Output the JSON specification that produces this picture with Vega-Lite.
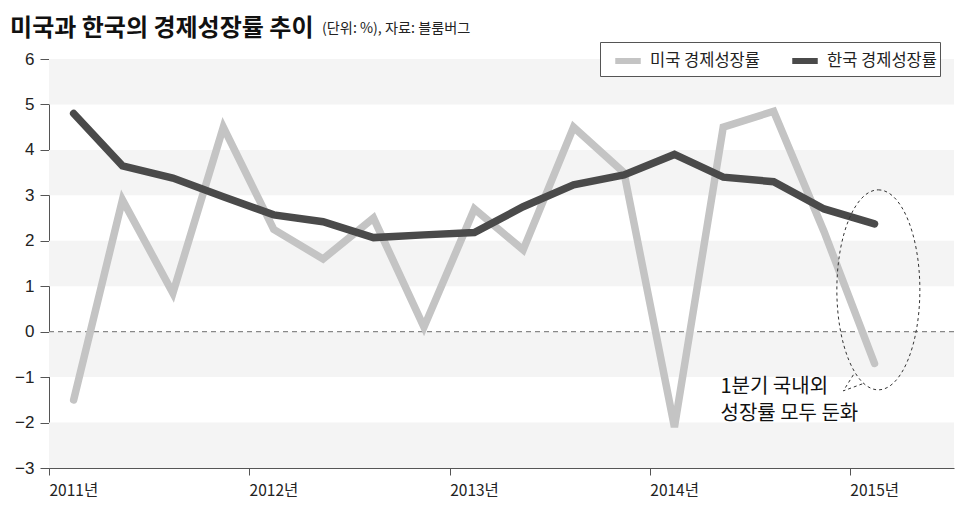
{
  "$schema": "https://vega.github.io/schema/vega-lite/v6.json",
  "width": 905,
  "height": 409,
  "autosize": "none",
  "padding": {"left": 49, "top": 59, "right": 16, "bottom": 47},
  "background": "white",
  "config": {"view": {"stroke": null}, "font": "Noto Sans CJK KR"},
  "datasets": {
    "growth": [
      {"date": "2011-02-15", "country": "미국 경제성장률", "value": -1.5},
      {"date": "2011-05-15", "country": "미국 경제성장률", "value": 2.9},
      {"date": "2011-08-15", "country": "미국 경제성장률", "value": 0.85},
      {"date": "2011-11-15", "country": "미국 경제성장률", "value": 4.5},
      {"date": "2012-02-15", "country": "미국 경제성장률", "value": 2.25},
      {"date": "2012-05-15", "country": "미국 경제성장률", "value": 1.6},
      {"date": "2012-08-15", "country": "미국 경제성장률", "value": 2.5},
      {"date": "2012-11-15", "country": "미국 경제성장률", "value": 0.1},
      {"date": "2013-02-15", "country": "미국 경제성장률", "value": 2.7},
      {"date": "2013-05-15", "country": "미국 경제성장률", "value": 1.8},
      {"date": "2013-08-15", "country": "미국 경제성장률", "value": 4.5},
      {"date": "2013-11-15", "country": "미국 경제성장률", "value": 3.5},
      {"date": "2014-02-15", "country": "미국 경제성장률", "value": -2.1},
      {"date": "2014-05-15", "country": "미국 경제성장률", "value": 4.5},
      {"date": "2014-08-15", "country": "미국 경제성장률", "value": 4.85},
      {"date": "2014-11-15", "country": "미국 경제성장률", "value": 2.2},
      {"date": "2015-02-15", "country": "미국 경제성장률", "value": -0.7},
      {"date": "2011-02-15", "country": "한국 경제성장률", "value": 4.8},
      {"date": "2011-05-15", "country": "한국 경제성장률", "value": 3.65},
      {"date": "2011-08-15", "country": "한국 경제성장률", "value": 3.38},
      {"date": "2011-11-15", "country": "한국 경제성장률", "value": 2.97},
      {"date": "2012-02-15", "country": "한국 경제성장률", "value": 2.57},
      {"date": "2012-05-15", "country": "한국 경제성장률", "value": 2.42},
      {"date": "2012-08-15", "country": "한국 경제성장률", "value": 2.07},
      {"date": "2012-11-15", "country": "한국 경제성장률", "value": 2.13},
      {"date": "2013-02-15", "country": "한국 경제성장률", "value": 2.18},
      {"date": "2013-05-15", "country": "한국 경제성장률", "value": 2.75},
      {"date": "2013-08-15", "country": "한국 경제성장률", "value": 3.23},
      {"date": "2013-11-15", "country": "한국 경제성장률", "value": 3.45},
      {"date": "2014-02-15", "country": "한국 경제성장률", "value": 3.9},
      {"date": "2014-05-15", "country": "한국 경제성장률", "value": 3.4},
      {"date": "2014-08-15", "country": "한국 경제성장률", "value": 3.3},
      {"date": "2014-11-15", "country": "한국 경제성장률", "value": 2.7},
      {"date": "2015-02-15", "country": "한국 경제성장률", "value": 2.37}
    ],
    "bands": [
      {"lo": 5, "hi": 6},
      {"lo": 3, "hi": 4},
      {"lo": 1, "hi": 2},
      {"lo": -1, "hi": 0},
      {"lo": -3, "hi": -2}
    ],
    "zero": [{"value": 0}],
    "callout": [{"date": "2015-02-22", "value": 0.92}],
    "note": [{"date": "2014-05-10", "value": -1.35, "label": "1분기 국내외\n성장률 모두 둔화"}],
    "heading": [{"date": "2010-10-22", "value": 6.5, "label": "미국과 한국의 경제성장률 추이"}],
    "source": [{"date": "2012-05-13", "value": 6.57, "label": "(단위: %), 자료: 블룸버그"}]
  },
  "layer": [
    {
      "data": {"name": "bands"},
      "mark": {"type": "rect", "color": "#f4f4f4"},
      "encoding": {
        "y": {"field": "lo", "type": "quantitative", "title": null},
        "y2": {"field": "hi"}
      }
    },
    {
      "data": {"name": "zero"},
      "mark": {"type": "rule", "color": "#888888", "strokeWidth": 1.2, "strokeDash": [5, 4]},
      "encoding": {
        "y": {"field": "value", "type": "quantitative", "title": null}
      }
    },
    {
      "data": {"name": "growth"},
      "mark": {"type": "line", "strokeWidth": 7.5, "strokeCap": "round", "strokeJoin": "miter"},
      "encoding": {
        "x": {
          "field": "date",
          "type": "temporal",
          "title": null,
          "scale": {
            "type": "utc",
            "domain": [
              {"year": 2011, "month": 1, "date": 1, "utc": true},
              {"year": 2015, "month": 7, "date": 10, "utc": true}
            ]
          },
          "axis": {
            "values": [
              {"year": 2011, "month": 1, "date": 1, "utc": true},
              {"year": 2012, "month": 1, "date": 1, "utc": true},
              {"year": 2013, "month": 1, "date": 1, "utc": true},
              {"year": 2014, "month": 1, "date": 1, "utc": true},
              {"year": 2015, "month": 1, "date": 1, "utc": true}
            ],
            "labelExpr": "utcFormat(datum.value, '%Y') + '년'",
            "labelAlign": "left",
            "labelDx": -2,
            "labelFontSize": 15.5,
            "labelColor": "#222222",
            "labelPadding": 8,
            "tickSize": 7,
            "tickColor": "#555555",
            "domainColor": "#555555",
            "grid": false,
            "labelFlush": false
          }
        },
        "y": {
          "field": "value",
          "type": "quantitative",
          "title": null,
          "scale": {"domain": [-3, 6], "nice": false, "zero": false},
          "axis": {
            "values": [-3, -2, -1, 0, 1, 2, 3, 4, 5, 6],
            "labelFontSize": 17,
            "labelColor": "#222222",
            "labelPadding": 6,
            "tickSize": 9,
            "tickColor": "#555555",
            "domainColor": "#555555",
            "grid": false,
            "labelFont": "Liberation Sans"
          }
        },
        "color": {
          "field": "country",
          "type": "nominal",
          "scale": {
            "domain": ["미국 경제성장률", "한국 경제성장률"],
            "range": ["#c4c4c4", "#4a4a4a"]
          },
          "legend": {
            "title": null,
            "orient": "none",
            "legendX": 551,
            "legendY": -17,
            "direction": "horizontal",
            "symbolType": "stroke",
            "symbolSize": 650,
            "symbolStrokeWidth": 6,
            "symbolOffset": 9,
            "labelFontSize": 16.5,
            "labelColor": "#222222",
            "labelOffset": 6,
            "columnPadding": 20,
            "padding": 3,
            "strokeColor": "#555555",
            "fillColor": "white"
          }
        }
      }
    },
    {
      "data": {"name": "callout"},
      "mark": {
        "type": "point",
        "shape": "M0,-1C0.229,-1,0.415,-0.552,0.415,0C0.415,0.552,0.229,1,0,1C-0.229,1,-0.415,0.552,-0.415,0C-0.415,-0.552,-0.229,-1,0,-1Z M-0.25,0.85L-0.35,1.01L-0.16,0.94",
        "size": 40000,
        "filled": false,
        "stroke": "#333333",
        "strokeWidth": 1,
        "strokeDash": [3, 3],
        "opacity": 1
      },
      "encoding": {
        "x": {"field": "date", "type": "temporal"},
        "y": {"field": "value", "type": "quantitative"}
      }
    },
    {
      "data": {"name": "note"},
      "mark": {
        "type": "text",
        "align": "left",
        "baseline": "alphabetic",
        "fontSize": 20,
        "lineHeight": 27,
        "lineBreak": "\n",
        "color": "#111111"
      },
      "encoding": {
        "x": {"field": "date", "type": "temporal"},
        "y": {"field": "value", "type": "quantitative"},
        "text": {"field": "label"}
      }
    },
    {
      "data": {"name": "heading"},
      "mark": {
        "type": "text",
        "align": "left",
        "baseline": "alphabetic",
        "fontSize": 24,
        "fontWeight": "bold",
        "color": "#111111"
      },
      "encoding": {
        "x": {"field": "date", "type": "temporal"},
        "y": {"field": "value", "type": "quantitative"},
        "text": {"field": "label"}
      }
    },
    {
      "data": {"name": "source"},
      "mark": {
        "type": "text",
        "align": "left",
        "baseline": "alphabetic",
        "fontSize": 14.2,
        "color": "#222222"
      },
      "encoding": {
        "x": {"field": "date", "type": "temporal"},
        "y": {"field": "value", "type": "quantitative"},
        "text": {"field": "label"}
      }
    }
  ]
}
